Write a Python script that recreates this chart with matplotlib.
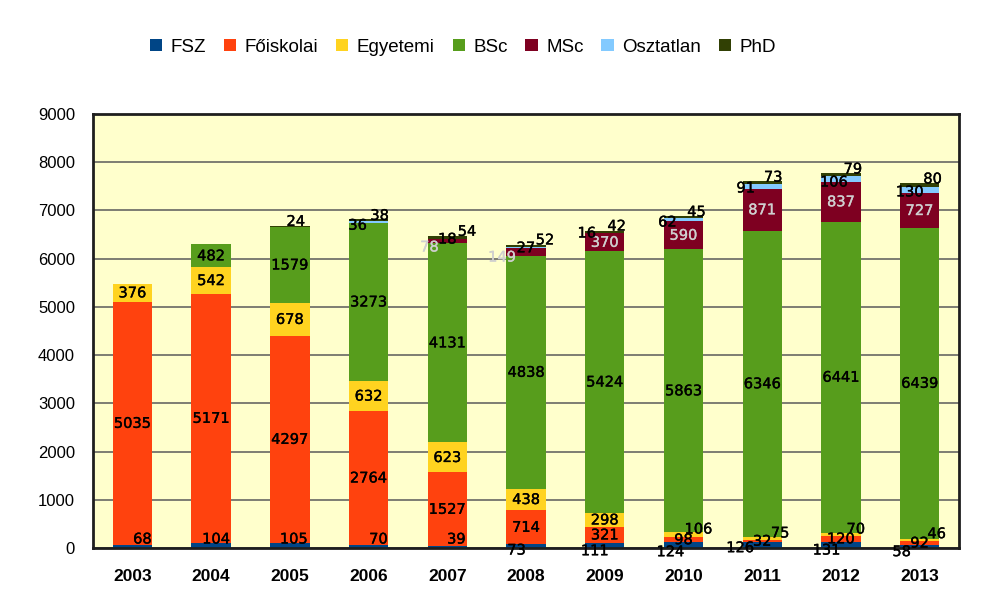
import matplotlib
matplotlib.use("Agg")
import matplotlib.pyplot as plt
import matplotlib.patheffects as pe
import numpy as np
from matplotlib.patches import Patch

years = [2003, 2004, 2005, 2006, 2007, 2008, 2009, 2010, 2011, 2012, 2013]
fsz = [68, 104, 105, 70, 39, 73, 111, 124, 126, 131, 58]
foiskolai = [5035, 5171, 4297, 2764, 1527, 714, 321, 98, 32, 120, 92]
egyetemi = [376, 542, 678, 632, 623, 438, 298, 106, 75, 70, 46]
bsc = [0, 482, 1579, 3273, 4131, 4838, 5424, 5863, 6346, 6441, 6439]
msc = [0, 0, 0, 0, 78, 149, 370, 590, 871, 837, 727]
osztatlan = [0, 0, 0, 36, 18, 27, 16, 62, 91, 106, 130]
phd = [0, 0, 24, 38, 54, 52, 42, 45, 73, 79, 80]

series = [
    ("FSZ", fsz, "#004586", "black"),
    ("Főiskolai", foiskolai, "#FF420E", "black"),
    ("Egyetemi", egyetemi, "#FFD320", "black"),
    ("BSc", bsc, "#579D1C", "black"),
    ("MSc", msc, "#7E0021", "#cfcfcf"),
    ("Osztatlan", osztatlan, "#83CAFF", "black"),
    ("PhD", phd, "#314004", "black"),
]

# label offsets in pixels (dx right, dy down) from segment centre
offsets = {
    ("FSZ", 2003): (10, -7.4), ("FSZ", 2004): (5, -6.5), ("FSZ", 2005): (4, -6.5),
    ("FSZ", 2006): (10, -7.3), ("FSZ", 2007): (9, -8),
    ("FSZ", 2008): (-9.5, 3.8), ("FSZ", 2009): (-10, 5.4), ("FSZ", 2010): (-13, 6.7),
    ("FSZ", 2011): (-22, 2.7), ("FSZ", 2012): (-14.5, 5.2), ("FSZ", 2013): (-18, 5),
    ("Egyetemi", 2010): (15, -5.7), ("Egyetemi", 2011): (18, -5.6),
    ("Egyetemi", 2012): (15, -5.2), ("Egyetemi", 2013): (17, -6),
    ("PhD", 2005): (6, -5),
    ("Osztatlan", 2006): (-11, 3), ("PhD", 2006): (11, -5),
    ("MSc", 2007): (-17.8, 5.6), ("PhD", 2007): (19.7, -6),
    ("MSc", 2008): (-24, 5), ("PhD", 2008): (19, -6),
    ("Osztatlan", 2009): (-18, 0), ("PhD", 2009): (12, -5.6),
    ("Osztatlan", 2010): (-16, 2.5), ("PhD", 2010): (13, -5),
    ("Osztatlan", 2011): (-16.5, 1.4), ("PhD", 2011): (11, -5.6),
    ("Osztatlan", 2012): (-7, 3), ("PhD", 2012): (12, -5.6),
    ("Osztatlan", 2013): (-10, 2), ("PhD", 2013): (13, -6),
}

W, H = 995, 600
fig = plt.figure(figsize=(W / 100, H / 100), dpi=100)
ax = fig.add_axes([93 / W, 52 / H, (959 - 93) / W, (548 - 114) / H])
ax.set_facecolor("#FFFFCC")

x = np.arange(len(years))
bottom = np.zeros(len(years))
px2pt = 0.72
for name, vals, col, tcol in series:
    v = np.array(vals, dtype=float)
    ax.bar(x, v, 0.5, bottom=bottom, color=col, zorder=2, linewidth=0)
    for i, val in enumerate(vals):
        if val <= 0:
            continue
        dx, dy = offsets.get((name, years[i]), (0, 0))
        t = ax.annotate(str(val), xy=(x[i], bottom[i] + val / 2),
                        xytext=(dx * px2pt, -dy * px2pt), textcoords="offset points",
                        ha="center", va="center", fontsize=10.5, color=tcol,
                        family="DejaVu Sans", zorder=5)
        t.set_path_effects([pe.withStroke(linewidth=0.25, foreground=tcol)])
    bottom += v

ax.set_xlim(-0.5, 10.5)
ax.set_ylim(0, 9000)
ax.set_yticks(range(0, 9001, 1000))
ax.set_xticks(x)
ax.set_xticklabels([str(y) for y in years], fontsize=12.5, fontweight="bold",
                   family="Liberation Sans")
for lab in ax.get_yticklabels():
    lab.set_family("Liberation Sans")
    lab.set_fontsize(12)
ax.tick_params(axis="both", length=0)
ax.tick_params(axis="y", pad=13)
ax.tick_params(axis="x", pad=15)
ax.yaxis.grid(True, color="#5a5a5a", linewidth=1.1, zorder=1)
ax.set_axisbelow(True)
for s in ax.spines.values():
    s.set_linewidth(2)
    s.set_color("#1e1e1e")

handles = [Patch(facecolor=c, edgecolor="none", label=n) for n, _, c, _ in series]
fig.legend(handles=handles, loc="center", bbox_to_anchor=(463 / W, 1 - 47 / H),
           ncol=7, frameon=False, handlelength=0.65, handleheight=0.65,
           handletextpad=0.45, columnspacing=0.95,
           prop={"family": "Liberation Sans", "size": 13.5})

fig.savefig("out.png", dpi=100)
